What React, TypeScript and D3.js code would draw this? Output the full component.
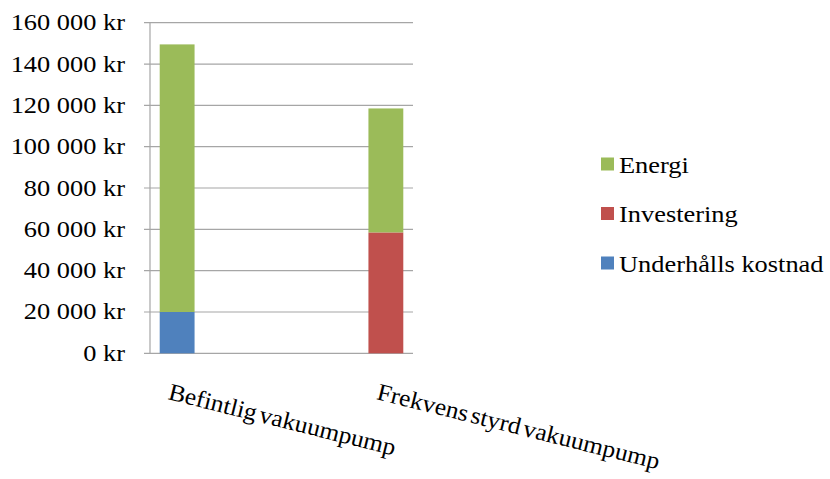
import React from "react";
import * as d3 from "d3";

// Cost comparison of two vacuum pump options (SEK)
const categories = ["Befintlig vakuumpump", "Frekvens styrd vakuumpump"];
const seriesKeys = ["Underhålls kostnad", "Investering", "Energi"];
const underhall = [20000, 0];
const investering = [0, 58500];
const energi = [129500, 60000];
const yTicks = [0, 20000, 40000, 60000, 80000, 100000, 120000, 140000, 160000];
const legendOrder = ["Energi", "Investering", "Underhålls kostnad"];

const colors: Record<string, string> = {
  "Underhålls kostnad": "#4F81BD",
  Investering: "#C0504D",
  Energi: "#9BBB59",
};

const W = 830;
const H = 479;
const plot = { left: 150, right: 413, top: 22.7, bottom: 353.3 };
const FONT = "'Liberation Serif', 'Times New Roman', serif";
// glyphs are drawn slightly wide
const STRETCH = 1.1;
const CAT_STRETCH = 1.06;

const locale = d3.formatLocale({
  decimal: ",",
  thousands: " ",
  grouping: [3],
  currency: ["", " kr"],
});
const fmt = locale.format("$,.0f");

export default function App() {
  const rows = categories.map((c, i) => ({
    category: c,
    "Underhålls kostnad": underhall[i],
    Investering: investering[i],
    Energi: energi[i],
  }));
  const stacked = d3.stack<any>().keys(seriesKeys)(rows);

  const y = d3.scaleLinear().domain([0, 160000]).range([plot.bottom, plot.top]);
  const x = d3
    .scalePoint<string>()
    .domain(categories)
    .range([plot.left, plot.right])
    .padding(0.13);
  const barW = x.step() * 0.167;

  return (
    <svg
      width={W}
      height={H}
      style={{ position: "absolute", left: 0, top: 0, background: "#fff" }}
      fontFamily={FONT}
    >
      {/* gridlines and ticks */}
      {yTicks.map((t) => (
        <g key={t}>
          <line
            x1={plot.left - 6}
            x2={plot.right}
            y1={y(t)}
            y2={y(t)}
            stroke="#a6a6a6"
            strokeWidth={1.2}
          />
          <text
            transform={`translate(125,${y(t) + 7.5}) scale(${STRETCH},1)`}
            textAnchor="end"
            fontSize={24}
            fill="#000"
          >
            {fmt(t)}
          </text>
        </g>
      ))}
      <line
        x1={plot.left}
        x2={plot.left}
        y1={plot.top}
        y2={plot.bottom}
        stroke="#a6a6a6"
        strokeWidth={1.2}
      />

      {/* stacked bars */}
      {stacked.map((s) => (
        <g key={s.key} fill={colors[s.key]}>
          {s.map((d, i) =>
            d[1] - d[0] > 0 ? (
              <rect
                key={i}
                x={(x(categories[i]) as number) - barW / 2}
                y={y(d[1])}
                width={barW}
                height={y(d[0]) - y(d[1])}
              />
            ) : null
          )}
        </g>
      ))}

      {/* category labels */}
      {categories.map((c) => {
        const cx = (x(c) as number) - 10;
        return (
          <text
            key={c}
            transform={`translate(${cx},${399}) rotate(14) scale(${CAT_STRETCH},1)`}
            fontSize={24}
            wordSpacing={-3}
            fill="#000"
          >
            {c}
          </text>
        );
      })}

      {/* legend */}
      {legendOrder.map((k, i) => {
        const ly = 164 + i * 49.5;
        return (
          <g key={k}>
            <rect x={601} y={ly - 6.5} width={13} height={13} fill={colors[k]} />
            <text
              transform={`translate(619,${ly + 8.5}) scale(${STRETCH},1)`}
              fontSize={24}
              fill="#000"
            >
              {k}
            </text>
          </g>
        );
      })}
    </svg>
  );
}
